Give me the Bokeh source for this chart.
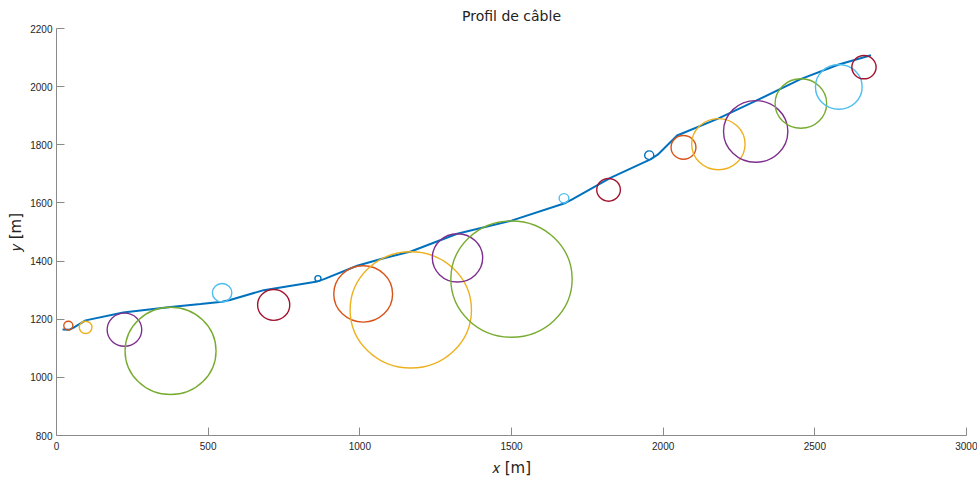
from bokeh.plotting import figure
from bokeh.models import Range1d, FixedTicker
from bokeh.embed import file_html
from bokeh.resources import INLINE

# Cable profile
cable_x = [20, 43, 55, 96, 220, 376, 475, 546, 572, 683, 860, 882, 991, 1079, 1168, 1321,
           1500, 1678, 1700, 1826, 1958, 1982, 2046, 2181, 2305, 2453, 2579, 2685]
cable_y = [1165, 1164, 1170, 1196, 1223, 1242, 1252, 1260, 1266, 1300, 1330, 1338, 1384, 1410,
           1433, 1494, 1539, 1600, 1612, 1686, 1750, 1766, 1832, 1890, 1951, 2026, 2076, 2108]

# Rollers / circles
circ_x = [39, 96, 224, 376, 546, 716, 862, 1011, 1168, 1322, 1500, 1673, 1820, 1954,
          2067, 2182, 2305, 2454, 2579, 2662]
circ_y = [1178, 1172, 1164, 1091, 1291, 1249, 1340, 1287, 1232, 1411, 1338, 1616, 1645, 1764,
          1791, 1802, 1846, 1942, 1999, 2067]
circ_r = [15, 21, 57, 150, 32, 53, 10, 97, 200, 83, 200, 16, 39, 15,
          41, 88, 106, 85, 77, 40]

palette = ["#0072BD", "#D95319", "#EDB120", "#7E2F8E", "#77AC30", "#4DBEEE", "#A2142F"]
circ_colors = [palette[(i + 1) % 7] for i in range(len(circ_x))]

x_ticks = [0, 500, 1000, 1500, 2000, 2500, 3000]
y_ticks = [800, 1000, 1200, 1400, 1600, 1800, 2000, 2200]

W, H = 977, 479
L, R, T, B = 56, 11, 21, 43

p = figure(width=W, height=H, output_backend="svg", toolbar_location=None,
           x_range=Range1d(0, 3000), y_range=Range1d(800, 2200),
           min_border_left=L, min_border_right=R, min_border_top=T, min_border_bottom=B)
p.outline_line_color = None
p.xgrid.visible = False
p.ygrid.visible = False
p.background_fill_color = "white"

p.title.text = "Profil de câble"
p.title.align = "center"
p.title.text_font = "DejaVu Sans"
p.title.text_font_size = "14px"
p.title.text_font_style = "normal"
p.title.text_color = "#222222"

for ax, ticks in ((p.xaxis, x_ticks), (p.yaxis, y_ticks)):
    ax.ticker = FixedTicker(ticks=ticks)
    ax.axis_line_color = "#8a8a8a"
    ax.major_tick_line_color = "#8a8a8a"
    ax.major_tick_in = 8
    ax.major_tick_out = 0
    ax.minor_tick_line_color = None
    ax.major_label_text_font = "Liberation Sans"
    ax.major_label_text_font_size = "10px"
    ax.major_label_text_color = "#262626"
    ax.axis_label_text_font = "DejaVu Sans"
    ax.axis_label_text_font_size = "15px"
    ax.axis_label_text_font_style = "normal"
    ax.axis_label_text_color = "#222222"
p.xaxis.major_label_standoff = 6
p.yaxis.major_label_standoff = 4
p.xaxis.axis_label = "\U0001D465 [m]"
p.yaxis.axis_label = "\U0001D466 [m]"
p.xaxis.axis_label_standoff = 6
p.yaxis.axis_label_standoff = 2

p.line(cable_x, cable_y, line_color=palette[0], line_width=2)
p.ellipse(x=circ_x, y=circ_y, width=[2 * r for r in circ_r], height=[2 * r for r in circ_r],
          fill_color=None, line_color=circ_colors, line_width=1.4)

open("out.html", "w").write(file_html(p, INLINE))
